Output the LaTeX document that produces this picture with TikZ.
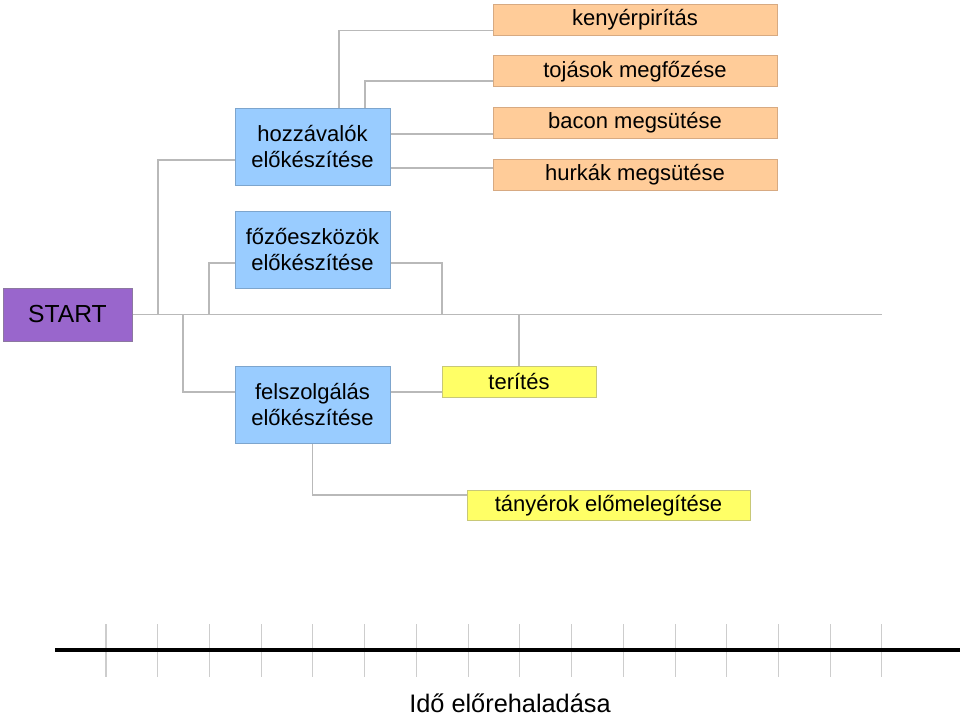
\documentclass[tikz,border=0pt]{standalone}
\usepackage{fontspec}
\setmainfont{Liberation Sans}
\usepackage{tikz}
\usetikzlibrary{positioning, calc}
\definecolor{startpurple}{RGB}{153, 102, 204}
\definecolor{startedge}{RGB}{140, 120, 160}
\definecolor{prepblue}{RGB}{153, 204, 255}
\definecolor{prepedge}{RGB}{125, 165, 205}
\definecolor{cookorange}{RGB}{255, 204, 153}
\definecolor{cookedge}{RGB}{215, 170, 130}
\definecolor{serveyellow}{RGB}{255, 255, 102}
\definecolor{serveedge}{RGB}{200, 200, 120}
\definecolor{linkgray}{RGB}{185, 185, 185}
\definecolor{tickgray}{RGB}{205, 205, 205}
\tikzset{
  box/.style={draw, line width=0.75pt, inner sep=0pt, align=center, font=\fontsize{16.5}{19.5}\selectfont},
  startbox/.style={box, fill=startpurple, draw=startedge, minimum width=96.75pt, minimum height=39.75pt, font=\fontsize{18.5}{21}\selectfont},
  prepbox/.style={box, fill=prepblue, draw=prepedge, minimum width=116.25pt, minimum height=57.75pt},
  cookbox/.style={box, fill=cookorange, draw=cookedge, minimum width=213pt, minimum height=23.25pt},
  servebox/.style={box, fill=serveyellow, draw=serveedge, minimum height=23pt},
  link/.style={draw=linkgray, line width=0.9pt},
  tick/.style={draw=tickgray, line width=0.8pt},
  timeaxis/.style={draw=black, line width=3pt}
}

\begin{document}
\begin{tikzpicture}[x=0.75pt, y=-0.75pt]
  \useasboundingbox (0,0) rectangle (960,717);

  % start and main line
  \node[startbox] (start) at (67.5,314.5) {START};
  \coordinate (mainend) at (882,314);
  \coordinate (jhozz) at (158,314);
  \coordinate (jfel) at (183,314);
  \coordinate (jfozo) at (209,314);
  \coordinate (jfozoout) at (442,314);
  \coordinate (jteri) at (519,314);

  % preparation steps
  \node[prepbox] (hozz) at (312.5,146.5) {hozzávalók\\előkészítése};
  \node[prepbox] (fozo) at (312.5,249.5) {főzőeszközök\\előkészítése};
  \node[prepbox] (fel) at (312.5,405) {felszolgálás\\előkészítése};

  % cooking
  \node[cookbox] (kenyer) at (635,20) {kenyérpirítás};
  \node[cookbox] (tojas) at (635,71.5) {tojások megfőzése};
  \node[cookbox] (bacon) at (635,123) {bacon megsütése};
  \node[cookbox] (hurka) at (635,175) {hurkák megsütése};

  % serving
  \node[servebox, minimum width=115.5pt] (teri) at (519,382) {terítés};
  \node[servebox, minimum width=212.25pt] (tany) at (608.5,505.5) {tányérok előmelegítése};

  % connectors
  \draw[link] (start.east) -- (start.east -| mainend);
  \draw[link] (jhozz) |- ($(hozz.west)+(0,13.5)$);
  \draw[link] (jfozo) |- ($(fozo.west)+(0,13.5)$);
  \draw[link] ($(fozo.east)+(0,13.5)$) -| (jfozoout);
  \draw[link] (jfel) |- ($(fel.west)+(0,-13)$);
  \draw[link] ($(fel.east)+(0,-13)$) -- ($(teri.west)+(0,10)$);
  \draw[link] (jteri) -- (teri.north);
  \draw[link] (fel.south) |- ($(tany.west)+(0,-10.5)$);
  \draw[link] ($(hozz.north)+(26.5,0)$) |- ($(kenyer.west)+(0,10.5)$);
  \draw[link] ($(hozz.north)+(52.5,0)$) |- ($(tojas.west)+(0,9.5)$);
  \draw[link] ($(hozz.east)+(0,-12.5)$) -- ($(bacon.west)+(0,11)$);
  \draw[link] ($(hozz.east)+(0,21.5)$) -- ($(hurka.west)+(0,-7)$);

  % time axis
  \coordinate (axisstart) at (55,650);
  \coordinate (axisend) at (960,650);
  \foreach \i in {0,...,15}
    \draw[tick] ({106+51.73*\i},624) -- ++(0,53);
  \draw[timeaxis] (axisstart) -- (axisend);
  \node[anchor=base, inner sep=0pt, font=\fontsize{19}{22}\selectfont] (timelabel) at (510,712) {Idő előrehaladása};
\end{tikzpicture}
\end{document}
